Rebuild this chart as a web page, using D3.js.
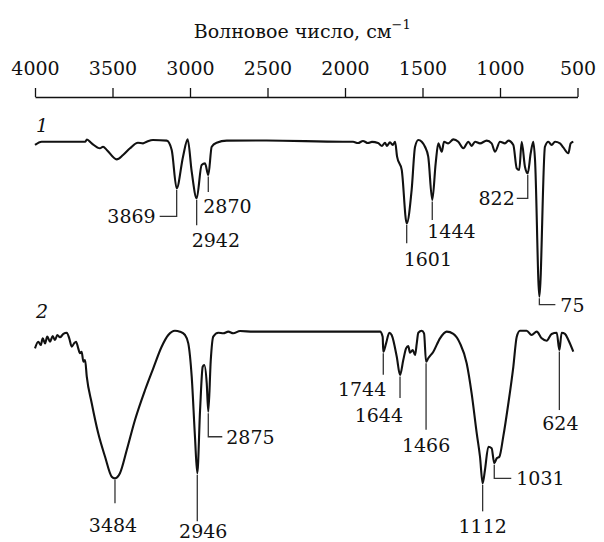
<!DOCTYPE html>
<html>
<head>
<meta charset="utf-8">
<script src="https://cdn.jsdelivr.net/npm/d3@7"></script>
<style>
  html, body { margin: 0; padding: 0; background: #fff; }
  svg text { font-family: "DejaVu Serif", "Noto Serif", serif; fill: #111; }
</style>
</head>
<body>
<svg id="chart"></svg>
<script>
const width = 604, height = 542;

// top axis ticks, cm^-1
const axisTicks = [4000, 3500, 3000, 2500, 2000, 1500, 1000, 500];

// spectrum 1: [wavenumber, relative transmission]
const spectrum1 = [
  [4000, 96.9], [3957, 98.9], [3677, 98.9], [3665, 100.3], [3634, 97.9], [3581, 94.8],
  [3561, 95.8], [3537, 93.8], [3473, 87.9], [3432, 90.6], [3387, 94.8], [3336, 98.3],
  [3303, 97.9], [3279, 98.9], [3239, 100], [3150, 99.6], [3118, 93.8], [3086, 69.8],
  [3045, 89.6], [3015, 100.4], [2989, 80.2], [2957, 63.6], [2925, 84.4], [2903, 85.4],
  [2882, 78.1], [2860, 95.8], [2828, 98.3], [2763, 99.6], [2505, 99.7], [2013, 98.9],
  [1948, 98.9], [1916, 98.1], [1884, 99.4], [1852, 98.1], [1826, 98.8], [1787, 98.1],
  [1761, 96.3], [1742, 98.3], [1729, 96.3], [1710, 98.6], [1692, 96.9], [1677, 98.9],
  [1664, 89.6], [1634, 81.3], [1602, 47.9], [1570, 68.8], [1548, 95.8], [1527, 100],
  [1505, 98.9], [1484, 95.8], [1463, 89.6], [1437, 62.5], [1415, 85.4], [1398, 97.9],
  [1376, 92.7], [1361, 98.9], [1334, 97.9], [1301, 100.4], [1269, 98.9], [1237, 94.8],
  [1204, 98.9], [1183, 96.3], [1161, 98.9], [1129, 97.9], [1086, 99.6], [1054, 97.9],
  [1032, 92.7], [1000, 98.9], [968, 97.9], [946, 99.6], [914, 96.9], [892, 82.3],
  [876, 81.3], [860, 98.9], [839, 83.3], [821, 79.2], [802, 91.7], [785, 98.9],
  [774, 87.5], [746, 2.1], [710, 95.8], [688, 98.9], [667, 96.9], [645, 98.9],
  [613, 97.9], [592, 95.4], [559, 91.7], [544, 97.9], [527, 98.9]
];

// spectrum 2: [wavenumber, relative transmission]
const spectrum2 = [
  [4000, 86.6], [3979, 91.0], [3963, 88.8], [3950, 93.2], [3935, 89.9], [3921, 94.3],
  [3903, 91.0], [3886, 94.7], [3871, 92.1], [3856, 95.4], [3839, 93.9], [3817, 96.1],
  [3795, 96.9], [3779, 93.2], [3763, 87.7], [3748, 89.9], [3735, 91.0], [3721, 86.6],
  [3710, 83.4], [3699, 84.4], [3688, 77.8], [3677, 78.9], [3666, 68.0], [3634, 50.5],
  [3592, 30.7], [3548, 15.3], [3505, 2.2], [3484, 1.1], [3452, 4.4], [3408, 19.7],
  [3355, 39.5], [3290, 59.2], [3237, 73.5], [3183, 87.7], [3140, 95.4], [3097, 98.2],
  [3065, 97.6], [3032, 95.4], [3011, 89.9], [2989, 68.0], [2968, 28.5], [2953, 4.4],
  [2935, 46.1], [2918, 74.5], [2908, 75.7], [2892, 63.6], [2882, 44.9], [2866, 78.9],
  [2850, 94.3], [2817, 96.9], [2785, 96.5], [2753, 97.6], [2721, 96.5], [2677, 98.0],
  [2592, 97.6], [1774, 97.6], [1757, 94.3], [1753, 84.4], [1735, 89.9], [1714, 96.9],
  [1699, 95.4], [1666, 81.1], [1645, 69.1], [1624, 78.9], [1606, 86.6], [1592, 88.2],
  [1581, 83.8], [1563, 85.5], [1548, 82.2], [1537, 89.9], [1527, 96.9], [1505, 98.2],
  [1490, 96.5], [1477, 77.8], [1463, 80.1], [1430, 84.4], [1387, 93.2], [1344, 97.6],
  [1301, 96.1], [1258, 89.9], [1215, 76.8], [1183, 57.0], [1150, 30.7], [1129, 15.3],
  [1112, -2.2], [1097, 6.6], [1075, 21.9], [1054, 20.9], [1037, 11.0], [1021, 14.3],
  [1004, 15.3], [979, 28.5], [946, 50.5], [914, 74.5], [892, 94.3], [871, 98.2],
  [828, 98.2], [796, 95.4], [763, 97.6], [731, 93.2], [699, 91.6], [667, 96.1],
  [634, 96.9], [617, 85.5], [602, 96.9], [581, 96.1], [559, 92.1], [527, 84.4]
];

// peak labels as printed: [label, wavenumber of the band]
const peaks1 = [
  ['3869', 3086], ['2942', 2957], ['2870', 2882], ['1601', 1602],
  ['1444', 1437], ['822', 821], ['75', 746]
];
const peaks2 = [
  ['3484', 3484], ['2946', 2953], ['2875', 2882], ['1744', 1753], ['1644', 1645],
  ['1466', 1477], ['1112', 1112], ['1031', 1037], ['624', 617]
];

// leader-line shapes: drop below tip, elbow, text anchor and offsets
const callouts1 = [
  { drop: 28, elbow: -17, anchor: 'end',   tx: -4, ty: 7 },
  { drop: 27, elbow: 0,   anchor: 'start', tx: -5, ty: 22 },
  { drop: 17, elbow: 0,   anchor: 'start', tx: -5, ty: 21 },
  { drop: 20, elbow: 0,   anchor: 'start', tx: -3, ty: 23 },
  { drop: 20, elbow: 0,   anchor: 'start', tx: -5, ty: 18 },
  { drop: 25, elbow: -11, anchor: 'end',   tx: -2, ty: 7 },
  { drop: 8,  elbow: 16,  anchor: 'start', tx: 5,  ty: 7 }
];
const callouts2 = [
  { drop: 25, elbow: 0,  anchor: 'middle', tx: -2, ty: 29 },
  { drop: 48, elbow: 0,  anchor: 'middle', tx: 6,  ty: 17 },
  { drop: 25, elbow: 14, anchor: 'start',  tx: 4,  ty: 7 },
  { drop: 23, elbow: 0,  anchor: 'end',    tx: 3,  ty: 21 },
  { drop: 23, elbow: 0,  anchor: 'end',    tx: 3,  ty: 24 },
  { drop: 68, elbow: 0,  anchor: 'middle', tx: 0,  ty: 22 },
  { drop: 28, elbow: 0,  anchor: 'middle', tx: 0,  ty: 22 },
  { drop: 15, elbow: 17, anchor: 'start',  tx: 5,  ty: 7 },
  { drop: 60, elbow: 0,  anchor: 'middle', tx: 1,  ty: 20 }
];

const svg = d3.select('#chart').attr('width', width).attr('height', height);

const x = d3.scaleLinear().domain([4000, 500]).range([35, 577.5]);
const y1 = d3.scaleLinear().domain([0, 100]).range([300, 140]);
const y2 = d3.scaleLinear().domain([0, 100]).range([480, 328]);

// axis on top
const axis = d3.axisTop(x)
  .tickValues(axisTicks)
  .tickSize(9)
  .tickSizeOuter(0)
  .tickPadding(13)
  .tickFormat(d3.format('d'));

const gAxis = svg.append('g').attr('transform', 'translate(0,97)').call(axis);
gAxis.attr('font-family', null).attr('font-size', null);
gAxis.select('.domain').attr('stroke', '#111').attr('stroke-width', 1.4);
gAxis.selectAll('.tick line').attr('stroke', '#111').attr('stroke-width', 1.3);
gAxis.selectAll('.tick text').attr('font-size', 19).attr('fill', '#111');

const title = svg.append('text')
  .attr('x', x(2250) - 4)
  .attr('y', 38)
  .attr('text-anchor', 'middle')
  .attr('font-size', 19);
title.append('tspan').text('Волновое число, см');
title.append('tspan').text('−1').attr('font-size', 13).attr('dy', -9);

function drawSpectrum(data, y, peaks, callouts, num, numY) {
  const line = d3.line()
    .x(d => x(d[0]))
    .y(d => y(d[1]))
    .curve(d3.curveMonotoneX);

  svg.append('path')
    .datum(data)
    .attr('d', line)
    .attr('fill', 'none')
    .attr('stroke', '#111')
    .attr('stroke-width', 2.1)
    .attr('stroke-linejoin', 'round');

  svg.append('text')
    .attr('x', 36)
    .attr('y', numY)
    .attr('font-size', 19)
    .attr('font-style', 'italic')
    .text(num);

  const tipOf = w => {
    const pt = data.find(d => d[0] === w);
    return pt ? y(pt[1]) : y(50);
  };

  const g = svg.append('g');
  peaks.forEach(([label, w], i) => {
    const c = callouts[i];
    const x0 = x(w);
    const yTip = tipOf(w) + 1.5;
    const yEnd = tipOf(w) + c.drop;
    const xEnd = x0 + c.elbow;
    const pts = [[x0, yTip], [x0, yEnd]];
    if (c.elbow) pts.push([xEnd, yEnd]);

    g.append('path')
      .attr('d', d3.line()(pts))
      .attr('fill', 'none')
      .attr('stroke', '#333')
      .attr('stroke-width', 1.3);

    g.append('text')
      .attr('x', xEnd + c.tx)
      .attr('y', yEnd + c.ty)
      .attr('text-anchor', c.anchor)
      .attr('font-size', 19)
      .text(label);
  });
}

drawSpectrum(spectrum1, y1, peaks1, callouts1, '1', 132);
drawSpectrum(spectrum2, y2, peaks2, callouts2, '2', 318);
</script>
</body>
</html>
